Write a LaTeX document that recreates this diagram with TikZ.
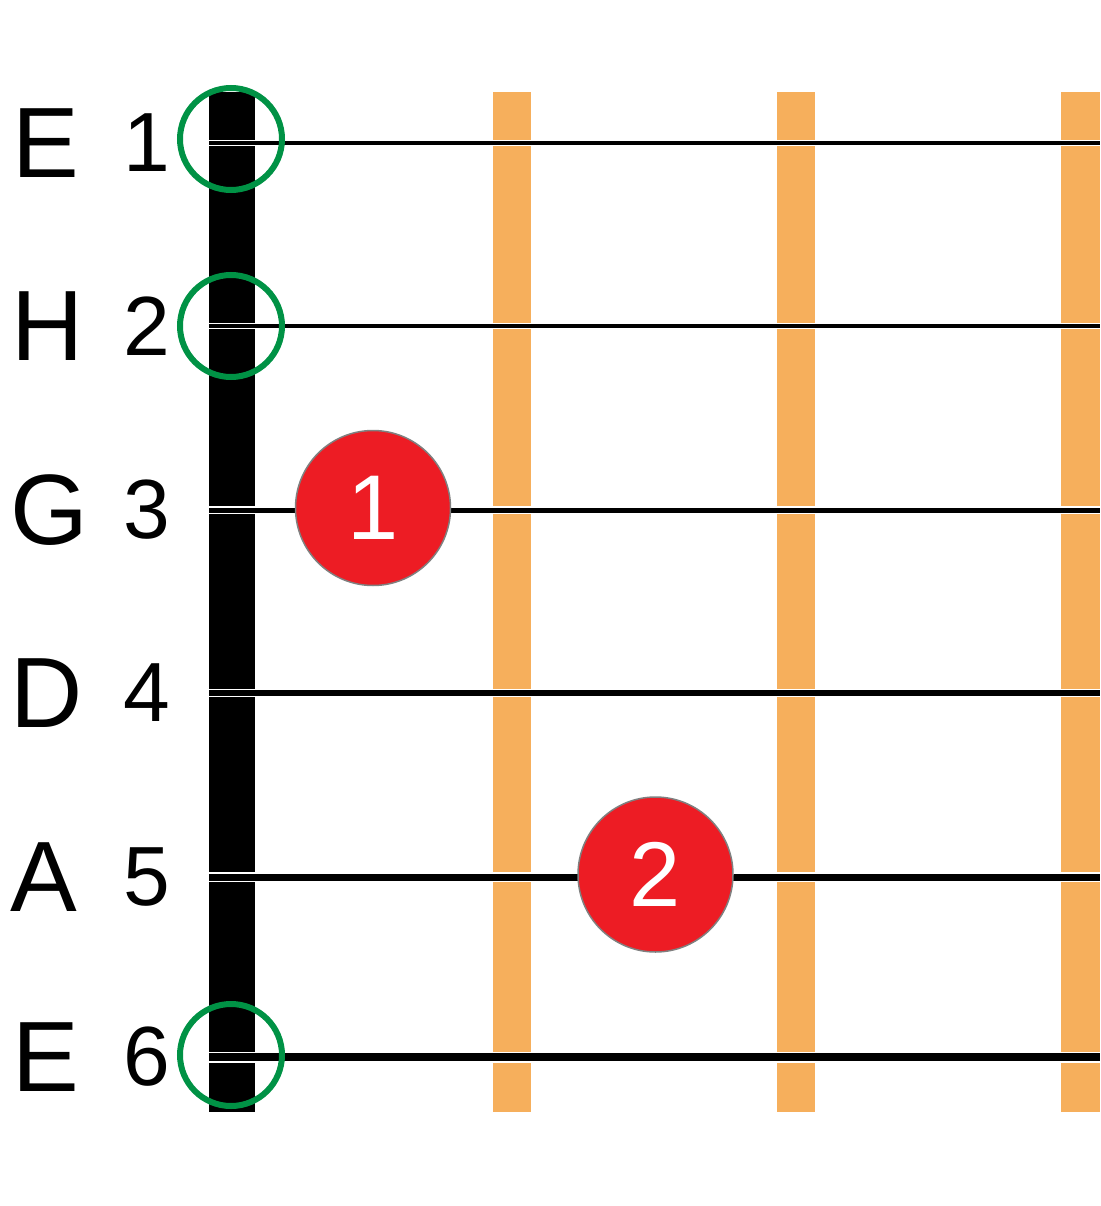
\documentclass[tikz,border=0pt]{standalone}
\usepackage{fontspec}
\setmainfont{Liberation Sans}
\definecolor{fretc}{HTML}{F6AF5C}
\definecolor{openc}{HTML}{009245}
\definecolor{fingc}{HTML}{ED1C24}
\begin{document}
\begin{tikzpicture}[x=1pt,y=-1pt,
  letter/.style={font=\fontsize{100}{100}\selectfont, anchor=center, inner sep=0pt},
  numlab/.style={font=\fontsize{84}{84}\selectfont, anchor=center, inner sep=0pt},
  fretbar/.style={fill=fretc},
  open/.style={draw=openc, line width=6pt, circle, minimum size=102pt, inner sep=0pt},
  finger/.style={circle, fill=fingc, draw=black!50, line width=1.5pt, minimum size=155pt, inner sep=0pt, text=white, font=\fontsize{92}{92}\selectfont},
  strw/.style={draw=white, line width=#1},
  strb/.style={draw=black, line width=#1}]
\useasboundingbox (0,0) rectangle (1100,1206);
% nut and frets
\fill[black] (209,92) rectangle (255,1112);
\fill[fretbar] (493,92) rectangle (531,1112);
\fill[fretbar] (777,92) rectangle (815,1112);
\fill[fretbar] (1061,92) rectangle (1100,1112);
% strings
\foreach \i/\y/\w in {1/143/4,2/326/4,3/510/5,4/693/6,5/877/7,6/1057/8.5}{
  \coordinate (s\i a) at (209,\y);
  \coordinate (s\i b) at (1100,\y);
  \draw[strw=\w pt+2.5pt] (s\i a) -- (s\i b);
  \draw[strb=\w pt] (s\i a) -- (s\i b);
}
% labels
\node[letter] (l1) at (46,143) {E};
\node[letter] (l2) at (48,326) {H};
\node[letter] (l3) at (49,510) {G};
\node[letter] (l4) at (47,693) {D};
\node[letter] (l5) at (44,877) {A};
\node[letter] (l6) at (46,1057) {E};
\node[numlab] (n1) at (147,143) {1};
\node[numlab] (n2) at (147,326) {2};
\node[numlab] (n3) at (147,510) {3};
\node[numlab] (n4) at (147,693) {4};
\node[numlab] (n5) at (147,877) {5};
\node[numlab] (n6) at (147,1057) {6};
% open strings
\node[open] (o1) at (231,139) {};
\node[open] (o2) at (231,326) {};
\node[open] (o6) at (231,1055) {};
% fingers
\node[finger] (f1) at (373,508) {1};
\node[finger] (f2) at (655.5,874.5) {2};
\end{tikzpicture}
\end{document}
